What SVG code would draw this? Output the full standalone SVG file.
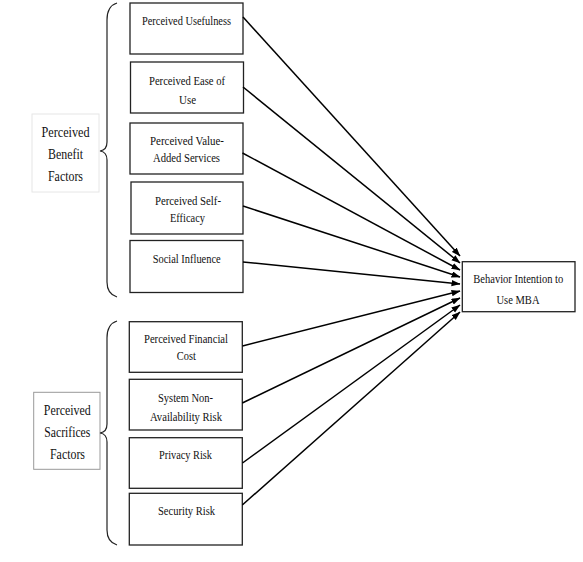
<svg xmlns="http://www.w3.org/2000/svg" width="583" height="562" viewBox="0 0 583 562">
<style>
.box{fill:#fff;stroke:#222;stroke-width:1.3}
.t{font-family:"Liberation Serif","Times New Roman",serif;font-size:13.5px;fill:#111;text-anchor:middle}
.tt{font-family:"Liberation Serif","Times New Roman",serif;font-size:12.5px;fill:#111;text-anchor:middle}
.lt{font-family:"Liberation Serif","Times New Roman",serif;font-size:15.5px;fill:#111;text-anchor:middle}
.brace{fill:none;stroke:#222;stroke-width:1.2}
.conn line{stroke:#000;stroke-width:1.5}
</style>
<defs>
<marker id="ah" markerWidth="9" markerHeight="7" refX="8.5" refY="3.2" orient="auto" markerUnits="userSpaceOnUse">
<path d="M0,0 L9,3.2 L0,6.4 z" fill="#000"/>
</marker>
</defs>
<rect width="583" height="562" fill="#fff"/>

<g id="label-benefit">
<rect x="32" y="114" width="67" height="78" fill="#fff" stroke="#e6e6e6" stroke-width="1"/>
<text class="lt" x="65.5" y="137" textLength="48" lengthAdjust="spacingAndGlyphs">Perceived</text>
<text class="lt" x="65.5" y="159" textLength="35" lengthAdjust="spacingAndGlyphs">Benefit</text>
<text class="lt" x="65.5" y="181" textLength="35" lengthAdjust="spacingAndGlyphs">Factors</text>
</g>
<g id="label-sacrifices">
<rect x="33.7" y="392.3" width="66.3" height="77" fill="#fff" stroke="#999" stroke-width="1"/>
<text class="lt" x="67.3" y="414.5" textLength="47" lengthAdjust="spacingAndGlyphs">Perceived</text>
<text class="lt" x="67.3" y="437" textLength="46" lengthAdjust="spacingAndGlyphs">Sacrifices</text>
<text class="lt" x="67.5" y="458.5" textLength="35" lengthAdjust="spacingAndGlyphs">Factors</text>
</g>

<g id="braces">
<path class="brace" d="M117,3 Q107,6 107,20 L107,142 Q107,150 100,151 Q107,152 107,160 L107,282 Q107,294 117,297"/>
<path class="brace" d="M117,321 Q107,324 107,338 L107,424 Q107,432 100,433 Q107,434 107,442 L107,530 Q107,542 117,545"/>
</g>

<g id="n1"><rect class="box" x="130" y="3" width="113" height="51"/>
<text class="t" x="186.5" y="24.5" textLength="89" lengthAdjust="spacingAndGlyphs">Perceived Usefulness</text></g>
<g id="n2"><rect class="box" x="130.5" y="62" width="113" height="51"/>
<text class="t" x="187" y="84.5" textLength="76" lengthAdjust="spacingAndGlyphs">Perceived Ease of</text>
<text class="t" x="187.5" y="103.5" textLength="17" lengthAdjust="spacingAndGlyphs">Use</text></g>
<g id="n3"><rect class="box" x="130" y="123" width="113" height="51"/>
<text class="t" x="187" y="144.5" textLength="74" lengthAdjust="spacingAndGlyphs">Perceived Value-</text>
<text class="t" x="186.5" y="161.5" textLength="67" lengthAdjust="spacingAndGlyphs">Added Services</text></g>
<g id="n4"><rect class="box" x="131" y="182" width="112" height="52"/>
<text class="t" x="188" y="204.5" textLength="66" lengthAdjust="spacingAndGlyphs">Perceived Self-</text>
<text class="t" x="187.5" y="221.5" textLength="35" lengthAdjust="spacingAndGlyphs">Efficacy</text></g>
<g id="n5"><rect class="box" x="130" y="240.5" width="113" height="52"/>
<text class="t" x="186.7" y="262.5" textLength="68" lengthAdjust="spacingAndGlyphs">Social Influence</text></g>

<g id="n6"><rect class="box" x="129.3" y="321.7" width="113" height="50.6"/>
<text class="t" x="186" y="342.5" textLength="84" lengthAdjust="spacingAndGlyphs">Perceived Financial</text>
<text class="t" x="186.3" y="359.5" textLength="19" lengthAdjust="spacingAndGlyphs">Cost</text></g>
<g id="n7"><rect class="box" x="129.3" y="379.3" width="113" height="50.7"/>
<text class="t" x="185.5" y="401.5" textLength="55" lengthAdjust="spacingAndGlyphs">System Non-</text>
<text class="t" x="186" y="421" textLength="72" lengthAdjust="spacingAndGlyphs">Availability Risk</text></g>
<g id="n8"><rect class="box" x="129.3" y="437.7" width="113" height="50.6"/>
<text class="t" x="185.5" y="458.5" textLength="53" lengthAdjust="spacingAndGlyphs">Privacy Risk</text></g>
<g id="n9"><rect class="box" x="129.3" y="493.3" width="113" height="51.7"/>
<text class="t" x="186.5" y="514.5" textLength="57" lengthAdjust="spacingAndGlyphs">Security Risk</text></g>

<g id="target"><rect class="box" x="462.3" y="261.7" width="112.7" height="50"/>
<text class="tt" x="518.3" y="283" textLength="90" lengthAdjust="spacingAndGlyphs">Behavior Intention to</text>
<text class="t" x="518" y="304" textLength="43" lengthAdjust="spacingAndGlyphs">Use MBA</text></g>

<g id="connectors" class="conn">
<line x1="243" y1="17" x2="460" y2="256" marker-end="url(#ah)"/>
<line x1="243" y1="87" x2="460" y2="263" marker-end="url(#ah)"/>
<line x1="242.5" y1="153" x2="460" y2="270" marker-end="url(#ah)"/>
<line x1="243" y1="206" x2="460" y2="277" marker-end="url(#ah)"/>
<line x1="243" y1="262" x2="460" y2="284" marker-end="url(#ah)"/>
<line x1="242.5" y1="346" x2="460" y2="291" marker-end="url(#ah)"/>
<line x1="242.3" y1="403" x2="460" y2="298" marker-end="url(#ah)"/>
<line x1="242.5" y1="463" x2="460" y2="305" marker-end="url(#ah)"/>
<line x1="242.3" y1="505" x2="460" y2="312" marker-end="url(#ah)"/>
</g>
</svg>
